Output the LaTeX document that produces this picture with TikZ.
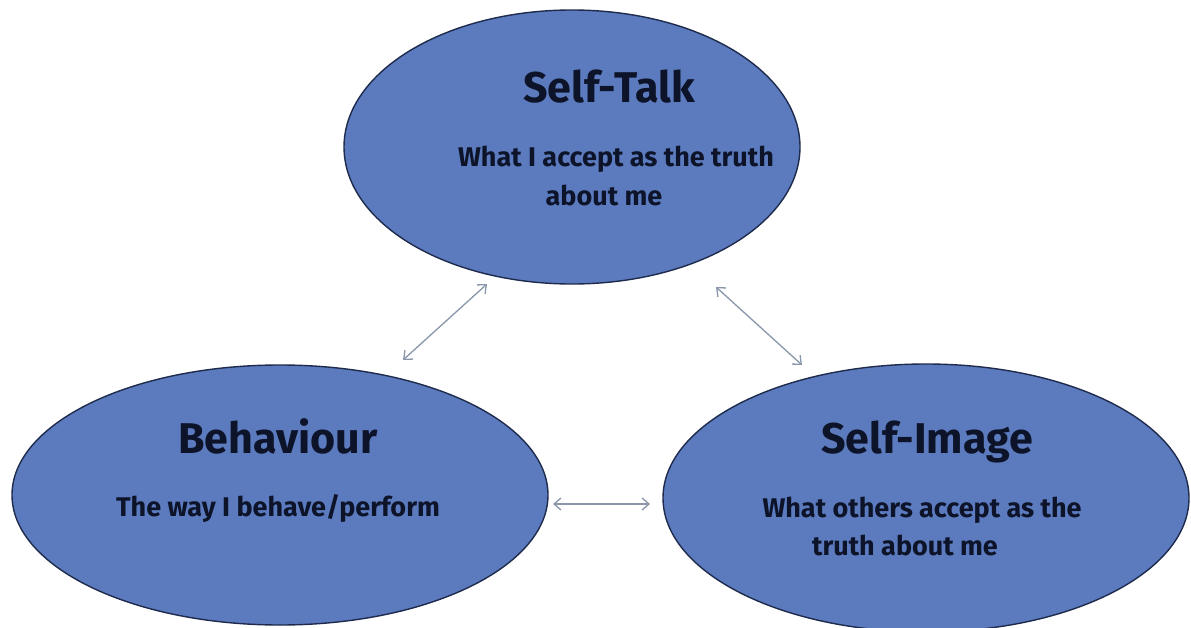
\documentclass[tikz,border=0pt]{standalone}
\usepackage{fontspec}
\setmainfont{Fira Sans}
\usetikzlibrary{shapes.geometric,arrows.meta}
\definecolor{fillblue}{HTML}{5B7BBE}
\definecolor{edgeblue}{HTML}{1E2B4C}
\definecolor{txtnavy}{HTML}{0D1328}
\definecolor{arrgray}{HTML}{8A96AA}
\begin{document}
\begin{tikzpicture}[x=1pt,y=-1pt,
  bubble/.style={ellipse, fill=fillblue, draw=edgeblue, line width=1.4pt, inner sep=0pt},
  titletext/.style={text=txtnavy, font=\bfseries\fontsize{43}{46}\selectfont, anchor=base, inner sep=0pt},
  bodytext/.style={text=txtnavy, font=\bfseries\fontsize{27}{39}\selectfont, anchor=base, inner sep=0pt},
  link/.style={arrgray, line width=1.3pt, {Straight Barb[length=7pt,width=12pt]}-{Straight Barb[length=7pt,width=12pt]}}
]
\clip (0,0) rectangle (1191,628);
\fill[white] (0,0) rectangle (1191,628);
% ellipses
\node[bubble, minimum width=456pt, minimum height=274pt] (talk) at (572,147) {};
\node[bubble, minimum width=536pt, minimum height=260pt] (behav) at (280,495) {};
\node[bubble, minimum width=526pt, minimum height=268pt] (image) at (926,498) {};
% texts
\node[titletext] (talkT) at (609,103) {Self-Talk};
\node[bodytext] (talkB1) at (616,167) {What I accept as the truth};
\node[bodytext] (talkB2) at (604,206) {about me};
\node[titletext] (behavT) at (278,453) {Behaviour};
\node[bodytext] (behavB) at (278,516) {The way I behave/perform};
\node[titletext] (imageT) at (927,453) {Self-Image};
\node[bodytext] (imageB1) at (922,517) {What others accept as the};
\node[bodytext] (imageB2) at (905,555) {truth about me};
% connector ends
\coordinate (a1) at (403,360);
\coordinate (a2) at (487,284);
\coordinate (b1) at (716,287);
\coordinate (b2) at (802,365);
\coordinate (c1) at (553,504);
\coordinate (c2) at (650,504);
\draw[link] (a1) -- (a2);
\draw[link] (b1) -- (b2);
\draw[link] (c1) -- (c2);
\end{tikzpicture}
\end{document}
